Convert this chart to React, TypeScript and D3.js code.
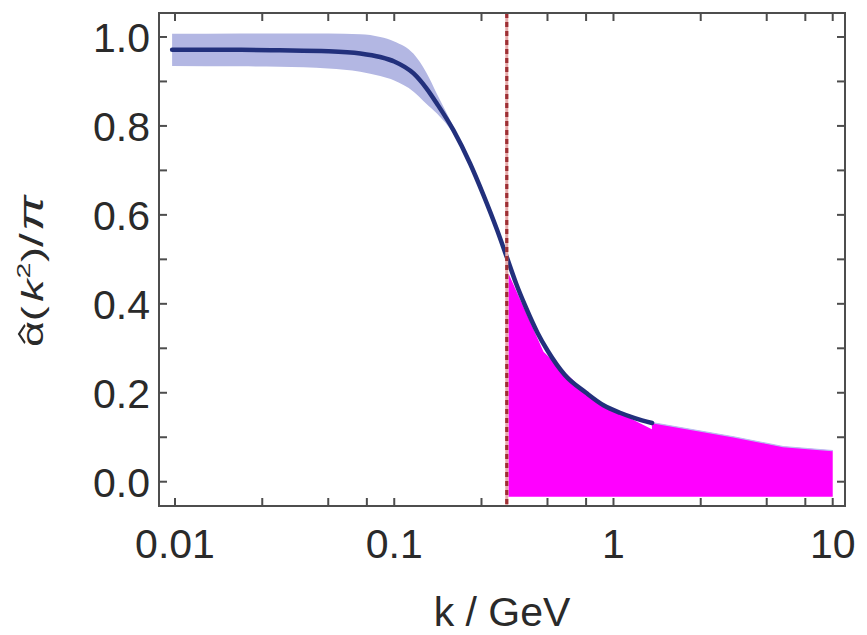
import React from "react";
import * as d3 from "d3";

// ---- data ----
const curveK = [0.0097, 0.02, 0.03, 0.05, 0.07, 0.0863, 0.1, 0.1225, 0.14, 0.1566, 0.1864, 0.222, 0.255, 0.294, 0.326, 0.36, 0.4, 0.45, 0.5, 0.6, 0.75, 0.9, 1.07, 1.25, 1.5];
const curveV = [0.971, 0.971, 0.97, 0.968, 0.963, 0.955, 0.945, 0.918, 0.885, 0.85, 0.79, 0.715, 0.645, 0.567, 0.505, 0.445, 0.39, 0.335, 0.295, 0.24, 0.2, 0.172, 0.155, 0.143, 0.132];
const bandUpper = [1.007, 1.008, 1.008, 1.008, 1.006, 1.0, 0.99, 0.962, 0.92, 0.872, 0.798, 0.72, 0.648, 0.57, 0.507, 0.447, 0.392, 0.337, 0.297, 0.242, 0.202, 0.174, 0.157, 0.145, 0.134];
const bandLower = [0.935, 0.934, 0.933, 0.929, 0.922, 0.912, 0.902, 0.877, 0.85, 0.828, 0.782, 0.71, 0.642, 0.564, 0.503, 0.443, 0.388, 0.333, 0.293, 0.238, 0.198, 0.17, 0.153, 0.141, 0.13];

// magenta region outline (top edge), then closed to its base
const regionK = [0.332, 0.4795, 0.756, 1.073, 1.497, 1.497, 3.53, 5.94, 10.0];
const regionV = [0.468, 0.292, 0.199, 0.154, 0.118, 0.133, 0.101, 0.079, 0.07];
const regionBase = -0.034;

const cutK = 0.326;

const xMajor = [0.01, 0.1, 1, 10];
const xMajorLabels = ["0.01", "0.1", "1", "10"];
const xMinor = [0.025, 0.05, 0.075, 0.25, 0.5, 0.75, 2.5, 5, 7.5];
const yTicks = [0, 0.1, 0.2, 0.3, 0.4, 0.5, 0.6, 0.7, 0.8, 0.9, 1.0];
const yLabelTicks = [0, 0.2, 0.4, 0.6, 0.8, 1.0];

const W = 867;
const H = 635;
const L = 159, R = 845, T = 13, B = 506;

export default function App() {
  const x = d3.scaleLog().domain([0.008452, 11.377]).range([L, R]);
  const y = d3.scaleLinear().domain([-0.0546, 1.0539]).range([B, T]);

  const idx = curveK.map((_, i) => i);
  const bandPath = d3
    .area<number>()
    .x((i) => x(curveK[i]))
    .y0((i) => y(bandLower[i]))
    .y1((i) => y(bandUpper[i]))
    .curve(d3.curveMonotoneX)(idx) as string;
  const linePath = d3
    .line<number>()
    .x((i) => x(curveK[i]))
    .y((i) => y(curveV[i]))
    .curve(d3.curveMonotoneX)(idx) as string;

  const regionPts: [number, number][] = regionK.map((k, i) => [x(k), y(regionV[i])]);
  regionPts.push([x(regionK[regionK.length - 1]), y(regionBase)]);
  regionPts.push([x(regionK[0]), y(regionBase)]);
  const regionPath = d3.line()(regionPts) + "Z";
  const rightEdge = d3.line()(regionK.slice(5).map((k, i) => [x(k), y(regionV[i + 5])] as [number, number])) as string;

  const tickLen = 8;
  const axisColor = "#4d4d4d";
  const font = "'Liberation Sans', Arial, sans-serif";
  const labelColor = "#2a2a2a";

  return (
    <svg width={W} height={H} style={{ position: "absolute", left: 0, top: 0, background: "#fff" }}>
      {/* band */}
      <path d={bandPath} fill="#b3b7e3" stroke="none" />
      {/* magenta region */}
      <path d={regionPath} fill="#ff00ff" stroke="none" />
      <path d={rightEdge} fill="none" stroke="#b9bdf0" strokeWidth={1.2} />
      {/* curve */}
      <path d={linePath} fill="none" stroke="#22307c" strokeWidth={4.5} strokeLinecap="round" />
      {/* cut line */}
      <line x1={x(cutK)} x2={x(cutK)} y1={T} y2={B} stroke="#e6a9a9" strokeWidth={3} />
      <line x1={x(cutK)} x2={x(cutK)} y1={T} y2={B} stroke="#9e2f34" strokeWidth={3.2} strokeDasharray="5,4" />

      {/* frame */}
      <rect x={L} y={T} width={R - L} height={B - T} fill="none" stroke={axisColor} strokeWidth={2} />

      {/* x ticks */}
      {[...xMajor, ...xMinor].map((k, i) => (
        <g key={"xt" + i}>
          <line x1={x(k)} x2={x(k)} y1={B} y2={B - tickLen} stroke={axisColor} strokeWidth={2} />
          <line x1={x(k)} x2={x(k)} y1={T} y2={T + tickLen} stroke={axisColor} strokeWidth={2} />
        </g>
      ))}
      {/* y ticks */}
      {yTicks.map((v, i) => (
        <g key={"yt" + i}>
          <line x1={L} x2={L + tickLen} y1={y(v)} y2={y(v)} stroke={axisColor} strokeWidth={2} />
          <line x1={R} x2={R - tickLen} y1={y(v)} y2={y(v)} stroke={axisColor} strokeWidth={2} />
        </g>
      ))}

      {/* x tick labels */}
      {xMajor.map((k, i) => (
        <text key={"xl" + i} x={x(k)} y={558} textAnchor="middle" fontFamily={font} fontSize={41} fill={labelColor}>
          {xMajorLabels[i]}
        </text>
      ))}
      {/* y tick labels */}
      {yLabelTicks.map((v, i) => (
        <text key={"yl" + i} x={150} y={y(v) + 15} textAnchor="end" fontFamily={font} fontSize={41} fill={labelColor}>
          {v.toFixed(1)}
        </text>
      ))}

      {/* axis titles */}
      <text x={502} y={626} textAnchor="middle" fontFamily={font} fontSize={41} fill={labelColor}>
        k / GeV
      </text>
      <g transform="translate(43,262) rotate(-90) scale(1.5,1)" fontFamily={font} fill={labelColor}>
        <text x={-56.7} y={0} fontSize={30}>{"\u03B1"}</text>
        <path d="M-54,-18 L-48,-24 L-42,-18" fill="none" stroke={labelColor} strokeWidth={1.8} />
        <text x={-39.5} y={0} fontSize={30}>(</text>
        <text x={-26.5} y={0} fontSize={30} fontStyle="italic">k</text>
        <text x={-11} y={-13} fontSize={19}>2</text>
        <text x={0} y={0} fontSize={30}>)</text>
        <text x={10} y={0} fontSize={33}>/</text>
        <text x={20.5} y={0} fontSize={36} fontStyle="italic">{"\u03C0"}</text>
      </g>
    </svg>
  );
}
